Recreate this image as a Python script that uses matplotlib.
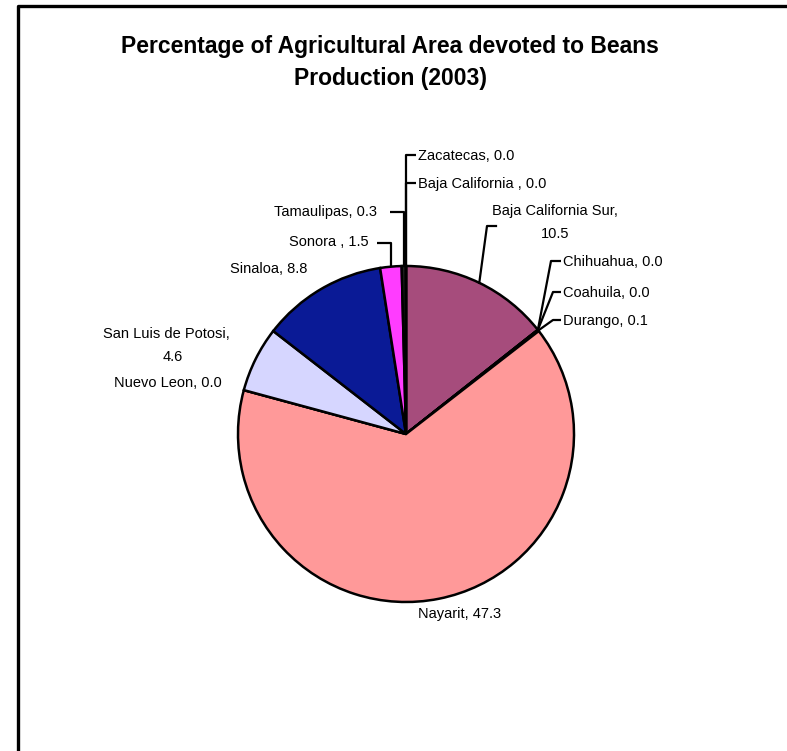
import matplotlib.pyplot as plt
import numpy as np

plt.rcParams['font.family'] = ['Liberation Sans', 'DejaVu Sans']

# Share of agricultural area under beans, by state (clockwise from 12 o'clock)
states = ['Baja California Sur', 'Chihuahua', 'Coahuila', 'Durango', 'Nayarit',
          'Nuevo Leon', 'San Luis de Potosi', 'Sinaloa', 'Sonora ', 'Tamaulipas',
          'Baja California ', 'Zacatecas']
values = [10.5, 0.0, 0.0, 0.1, 47.3, 0.0, 4.6, 8.8, 1.5, 0.3, 0.0, 0.0]
colors = ['#A64C7C', '#FFFFCC', '#CCFFFF', '#660066', '#FF9999', '#0066CC',
          '#D6D6FF', '#0A1A96', '#FF3CFF', '#202020', '#9999FF', '#00FFFF']

W, H = 787, 751
fig = plt.figure(figsize=(W / 100, H / 100), dpi=100)
ax = fig.add_axes([0, 0, 1, 1])


def P(x, y):
    # pixel position (origin top-left) -> data coords
    return x, H - y


cx, cy = P(406, 434)
R = 168
wedges, _ = ax.pie(values, colors=colors, startangle=90, counterclock=False,
                   center=(cx, cy), radius=R, frame=True,
                   wedgeprops=dict(edgecolor='black', linewidth=1.8))
ax.set_xlim(0, W)
ax.set_ylim(0, H)
ax.set_aspect('equal')
ax.axis('off')


def anchor(i):
    w = wedges[i]
    a = np.deg2rad((w.theta1 + w.theta2) / 2)
    return cx + R * np.cos(a), cy + R * np.sin(a)


def label(i):
    return f'{states[i]}, {values[i]:.1f}'


fs = 10.5
# (index, text pos, ha, leader elbow points after anchor)
placed = [
    (11, (418, 156), 'left', [(None, 155), (416, 155)]),
    (10, (418, 184), 'left', [(None, 183), (416, 183)]),
    (9, (377, 212), 'right', [(None, 212), (390, 212)]),
    (8, (369, 242), 'right', [(None, 243), (377, 243)]),
    (1, (563, 262), 'left', [(551, 261), (561, 261)]),
    (2, (563, 293), 'left', [(553, 292), (561, 292)]),
    (3, (563, 321), 'left', [(553, 320), (561, 320)]),
]
for i, (tx, ty), ha, pts in placed:
    ax_, ay_ = anchor(i)
    xs, ys = [ax_], [ay_]
    for px, py in pts:
        xs.append(ax_ if px is None else px)
        ys.append(H - py)
    ax.plot(xs, ys, color='black', lw=1.6, solid_capstyle='butt', zorder=3)
    ax.text(*P(tx, ty), label(i), fontsize=fs, ha=ha, va='center')

# Baja California Sur: two-line label with a slanted leader
ax_, ay_ = anchor(0)
ax.plot([ax_, 487, 496], [ay_, H - 226, H - 226], color='black', lw=1.6, zorder=3)
ax.text(*P(555, 211), f'{states[0]},', fontsize=fs, ha='center', va='center')
ax.text(*P(555, 234), f'{values[0]:.1f}', fontsize=fs, ha='center', va='center')

# labels sitting next to their slices
ax.text(*P(307, 269), label(7), fontsize=fs, ha='right', va='center')
ax.text(*P(166, 334), f'{states[6]},', fontsize=fs, ha='center', va='center')
ax.text(*P(173, 357), f'{values[6]:.1f}', fontsize=fs, ha='center', va='center')
ax.text(*P(222, 383), label(5), fontsize=fs, ha='right', va='center')
ax.text(*P(418, 614), label(4), fontsize=fs, ha='left', va='center')

ax.text(*P(390, 46), 'Percentage of Agricultural Area devoted to Beans',
        fontsize=16.5, fontweight='bold', ha='center', va='center')
ax.text(*P(390, 79), 'Production (2003)',
        fontsize=16.5, fontweight='bold', ha='center', va='center')

# chart frame (left and top edges)
ax.plot([18, 18, W + 5], [-5, H - 6, H - 6], color='black', lw=2.4, zorder=4)

fig.savefig('out.png', dpi=100)
